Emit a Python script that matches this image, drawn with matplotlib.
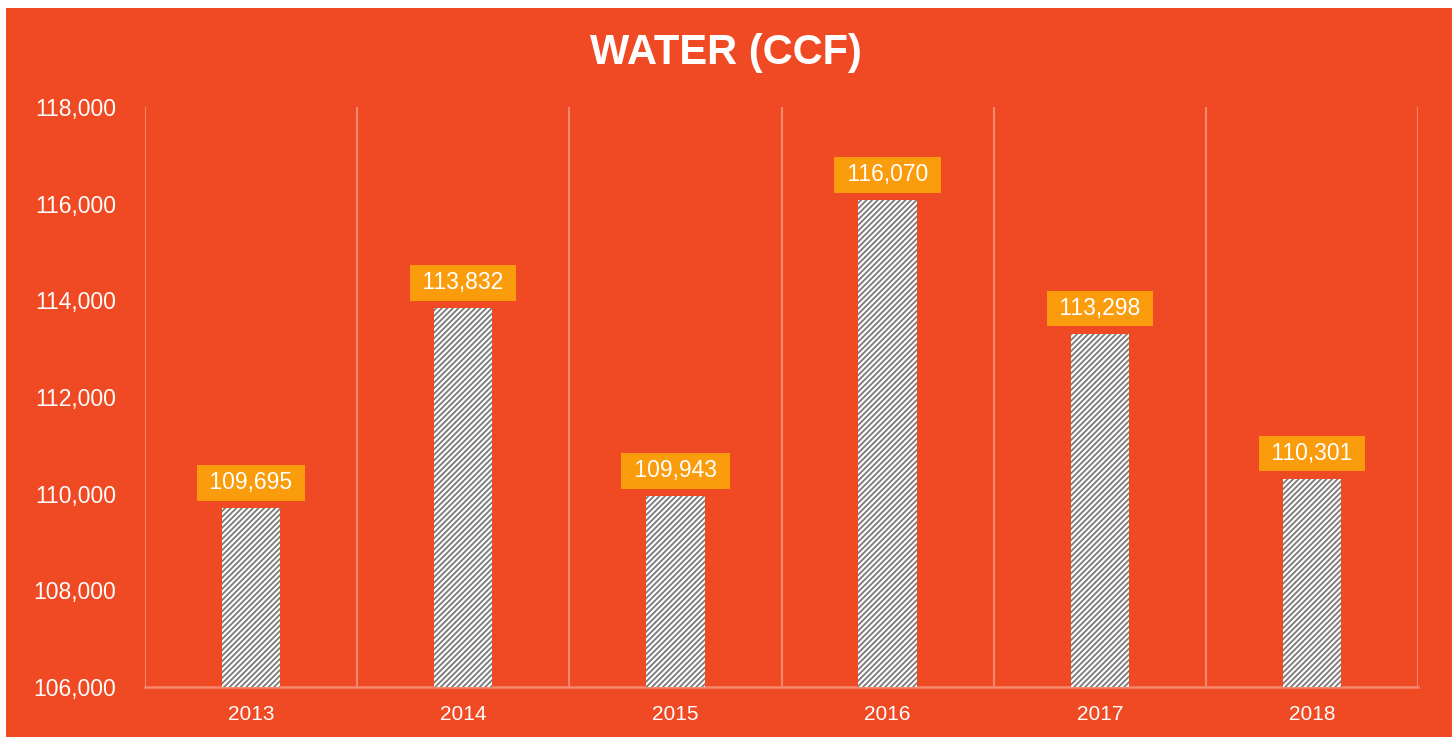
import matplotlib
matplotlib.use("Agg")
import matplotlib.pyplot as plt
from matplotlib.patches import Rectangle

years = ["2013", "2014", "2015", "2016", "2017", "2018"]
water_ccf = [109695, 113832, 109943, 116070, 113298, 110301]
y_ticks = [106000, 108000, 110000, 112000, 114000, 116000, 118000]

BG = "#F04A24"
GRID = "#F5896D"
LABEL_BG = "#FA9C0B"

plt.rcParams["font.family"] = ["Liberation Sans", "DejaVu Sans"]
plt.rcParams["hatch.linewidth"] = 1.3

fig = plt.figure(figsize=(14.52, 7.37), dpi=100)
fig.patch.set_facecolor("white")
fig.patches.append(Rectangle((6 / 1452, 0), 1 - 6 / 1452, 1 - 8 / 737,
                             transform=fig.transFigure, facecolor=BG,
                             edgecolor="none", zorder=-10))

ax = fig.add_axes([145 / 1452, 1 - 687 / 737, (1418 - 145) / 1452, (687 - 107) / 737])
ax.set_facecolor("none")
ax.set_zorder(1)

x = list(range(len(years)))
ax.bar(x, water_ccf, width=0.275, bottom=0, color="white", edgecolor="#7a7a7a",
       hatch="//////", linewidth=0, zorder=3)

ax.set_xlim(-0.5, len(years) - 0.5)
ax.set_ylim(y_ticks[0], y_ticks[-1])
ax.set_yticks(y_ticks)
ax.set_yticklabels([f"{v:,}" for v in y_ticks])
ax.set_xticks(x)
ax.set_xticklabels(years)

for b in [i - 0.5 for i in range(len(years) + 1)]:
    ax.axvline(b, color=GRID, lw=1.5, zorder=1)

for s in ["top", "right", "left"]:
    ax.spines[s].set_visible(False)
ax.spines["bottom"].set_color(GRID)
ax.spines["bottom"].set_linewidth(1.8)

ax.tick_params(axis="y", length=0, pad=21, labelsize=16.5, labelcolor="white")
ax.tick_params(axis="x", length=0, pad=13, labelsize=15, labelcolor="white")

for xi, v in zip(x, water_ccf):
    ax.annotate(f" {v:,} ", (xi, v), xytext=(0, 18.5), textcoords="offset points",
                ha="center", va="center", color="white", fontsize=16.5, zorder=5,
                bbox=dict(boxstyle="square,pad=0.28", fc=LABEL_BG, ec="none"))

fig.text(0.5, 1 - 53 / 737, "WATER (CCF)", ha="center", va="center",
         color="white", fontsize=30, fontweight="bold")

fig.savefig("out.png", dpi=100, facecolor=fig.get_facecolor())
